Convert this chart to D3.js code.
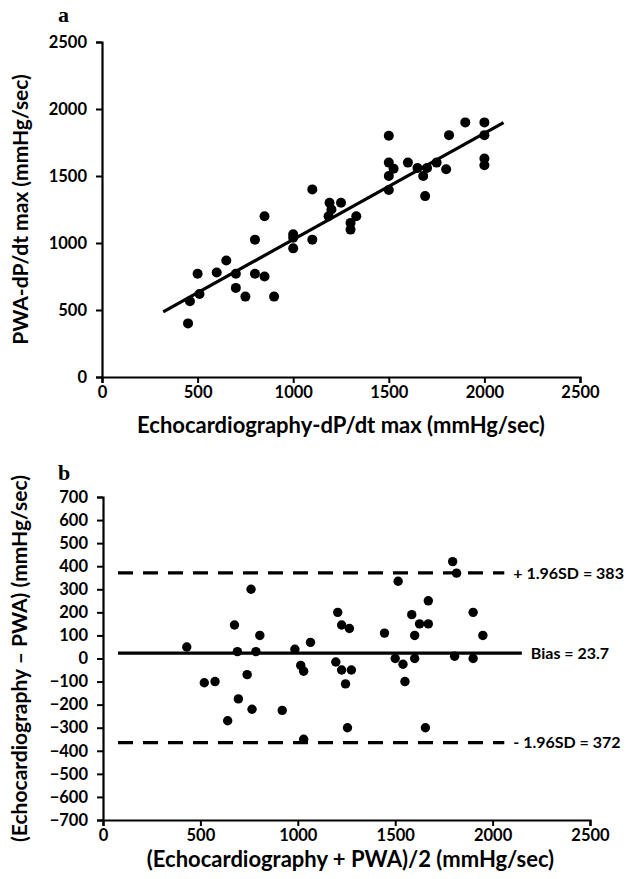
<!DOCTYPE html>
<html>
<head>
<meta charset="utf-8">
<script src="https://cdn.jsdelivr.net/npm/d3@7"></script>
<style>
  body { margin: 0; background: #fff; }
  text { font-family: Lato, "Open Sans", sans-serif; font-weight: bold; fill: #000; }
</style>
</head>
<body>
<svg id="chart"></svg>
<script>
const W = 628, H = 879;

// panel a: echo vs PWA dP/dt max
const echoX = [450, 460, 510, 500, 600, 650, 700, 700, 750, 800, 800, 850, 850, 900,
  1000, 1000, 1000, 1100, 1100, 1185, 1190, 1200, 1250, 1300, 1300, 1330,
  1500, 1500, 1500, 1500, 1525, 1600, 1650, 1690, 1680, 1700, 1750, 1800,
  1815, 1900, 2000, 2000, 2000, 2000];
const pwaY = [400, 565, 620, 770, 780, 870, 770, 665, 600, 770, 1025, 750, 1200, 600,
  1065, 1040, 960, 1400, 1025, 1200, 1300, 1250, 1300, 1150, 1100, 1200,
  1800, 1600, 1500, 1395, 1555, 1600, 1560, 1350, 1500, 1560, 1600, 1550,
  1805, 1900, 1900, 1805, 1630, 1580];
const fitSlope = 0.793, fitIntercept = 233;
const fitRange = [320, 2100];
const ticksA = [0, 500, 1000, 1500, 2000, 2500];

// panel b: Bland-Altman
const meanX = [430, 520, 575, 640, 675, 690, 695, 740, 760, 765, 785, 805, 920, 985,
  1015, 1030, 1030, 1065, 1195, 1205, 1225, 1225, 1245, 1255, 1265, 1275,
  1445, 1500, 1515, 1540, 1550, 1585, 1600, 1600, 1625, 1655, 1670, 1670,
  1795, 1805, 1815, 1900, 1900, 1950];
const diffY = [50, -105, -100, -270, 145, 30, -175, -70, 300, -220, 30, 100, -225, 40,
  -30, -55, -350, 70, -15, 200, 145, -50, -110, -300, 130, -50,
  110, 0, 335, -25, -100, 190, 0, 100, 150, -300, 150, 250,
  420, 10, 370, 200, 0, 100];
const refLines = [
  { value: 371, label: "+ 1.96SD = 383", dashed: true, from: 77, to: 2060 },
  { value: 23.7, label: "Bias = 23.7", dashed: false, from: 77, to: 2150 },
  { value: -365, label: "- 1.96SD = 372", dashed: true, from: 77, to: 2060 }
];
const ticksBx = [0, 500, 1000, 1500, 2000, 2500];
const ticksBy = d3.range(-700, 701, 100);

const svg = d3.select("#chart").attr("width", W).attr("height", H);

function styleAxis(g) {
  g.select(".domain").attr("stroke", "#000").attr("stroke-width", 2.2);
  g.selectAll(".tick line").attr("stroke", "#000").attr("stroke-width", 2);
  g.selectAll(".tick text").style("font-size", "16.5px");
}

// ---- panel a ----
const xA = d3.scaleLinear().domain([0, 2500]).range([102, 580]);
const yA = d3.scaleLinear().domain([0, 2500]).range([377, 42]);

svg.append("g")
  .attr("transform", `translate(0,${yA(0)})`)
  .call(d3.axisBottom(xA).tickValues(ticksA).tickFormat(d3.format("d"))
    .tickSize(6).tickSizeOuter(6).tickPadding(3))
  .call(styleAxis);
svg.append("g")
  .attr("transform", `translate(${xA(0)},0)`)
  .call(d3.axisLeft(yA).tickValues(ticksA).tickFormat(d3.format("d"))
    .tickSize(6).tickSizeOuter(6).tickPadding(9))
  .call(styleAxis);

svg.append("line")
  .attr("x1", xA(fitRange[0])).attr("y1", yA(fitSlope * fitRange[0] + fitIntercept))
  .attr("x2", xA(fitRange[1])).attr("y2", yA(fitSlope * fitRange[1] + fitIntercept))
  .attr("stroke", "#000").attr("stroke-width", 3.2);

svg.append("g").selectAll("circle")
  .data(echoX.map((x, i) => [x, pwaY[i]]))
  .join("circle")
  .attr("cx", d => xA(d[0])).attr("cy", d => yA(d[1]))
  .attr("r", 5).attr("fill", "#000");

svg.append("text").attr("x", 58).attr("y", 22)
  .style("font-family", "'Liberation Serif', 'DejaVu Serif', serif")
  .style("font-size", "22px").text("a");
svg.append("text")
  .attr("x", (xA(0) + xA(2500)) / 2).attr("y", 433)
  .attr("text-anchor", "middle").style("font-size", "22px")
  .text("Echocardiography-dP/dt max (mmHg/sec)");
svg.append("text")
  .attr("transform", `translate(28,${(yA(0) + yA(2500)) / 2}) rotate(-90)`)
  .attr("text-anchor", "middle").style("font-size", "21px")
  .text("PWA-dP/dt max (mmHg/sec)");

// ---- panel b ----
const xB = d3.scaleLinear().domain([0, 2500]).range([103, 590]);
const yB = d3.scaleLinear().domain([-700, 700]).range([820, 497]);

svg.append("g")
  .attr("transform", `translate(0,${yB(-700)})`)
  .call(d3.axisBottom(xB).tickValues(ticksBx).tickFormat(d3.format("d"))
    .tickSize(6).tickSizeOuter(6).tickPadding(3))
  .call(styleAxis);
svg.append("g")
  .attr("transform", `translate(${xB(0)},0)`)
  .call(d3.axisLeft(yB).tickValues(ticksBy).tickFormat(d3.format("d"))
    .tickSize(6).tickSizeOuter(6).tickPadding(9))
  .call(styleAxis);

const ref = svg.append("g").selectAll("g").data(refLines).join("g");
ref.append("line")
  .attr("x1", d => xB(d.from)).attr("x2", d => xB(d.to))
  .attr("y1", d => yB(d.value)).attr("y2", d => yB(d.value))
  .attr("stroke", "#000").attr("stroke-width", 3.2)
  .attr("stroke-dasharray", d => d.dashed ? "15,10" : null);
ref.append("text")
  .attr("x", d => xB(d.to) + 9)
  .attr("y", d => yB(d.value)).attr("dy", "0.35em")
  .style("font-size", "16px")
  .text(d => d.label);

svg.append("g").selectAll("circle")
  .data(meanX.map((x, i) => [x, diffY[i]]))
  .join("circle")
  .attr("cx", d => xB(d[0])).attr("cy", d => yB(d[1]))
  .attr("r", 4.7).attr("fill", "#000");

svg.append("text").attr("x", 58).attr("y", 480)
  .style("font-family", "'Liberation Serif', 'DejaVu Serif', serif")
  .style("font-size", "22px").text("b");
svg.append("text")
  .attr("x", (xB(0) + xB(2500)) / 2 + 4).attr("y", 867)
  .attr("text-anchor", "middle").style("font-size", "22px")
  .text("(Echocardiography + PWA)/2 (mmHg/sec)");
svg.append("text")
  .attr("transform", `translate(27,${(yB(-700) + yB(700)) / 2}) rotate(-90)`)
  .attr("text-anchor", "middle").style("font-size", "21px")
  .text("(Echocardiography – PWA) (mmHg/sec)");
</script>
</body>
</html>
